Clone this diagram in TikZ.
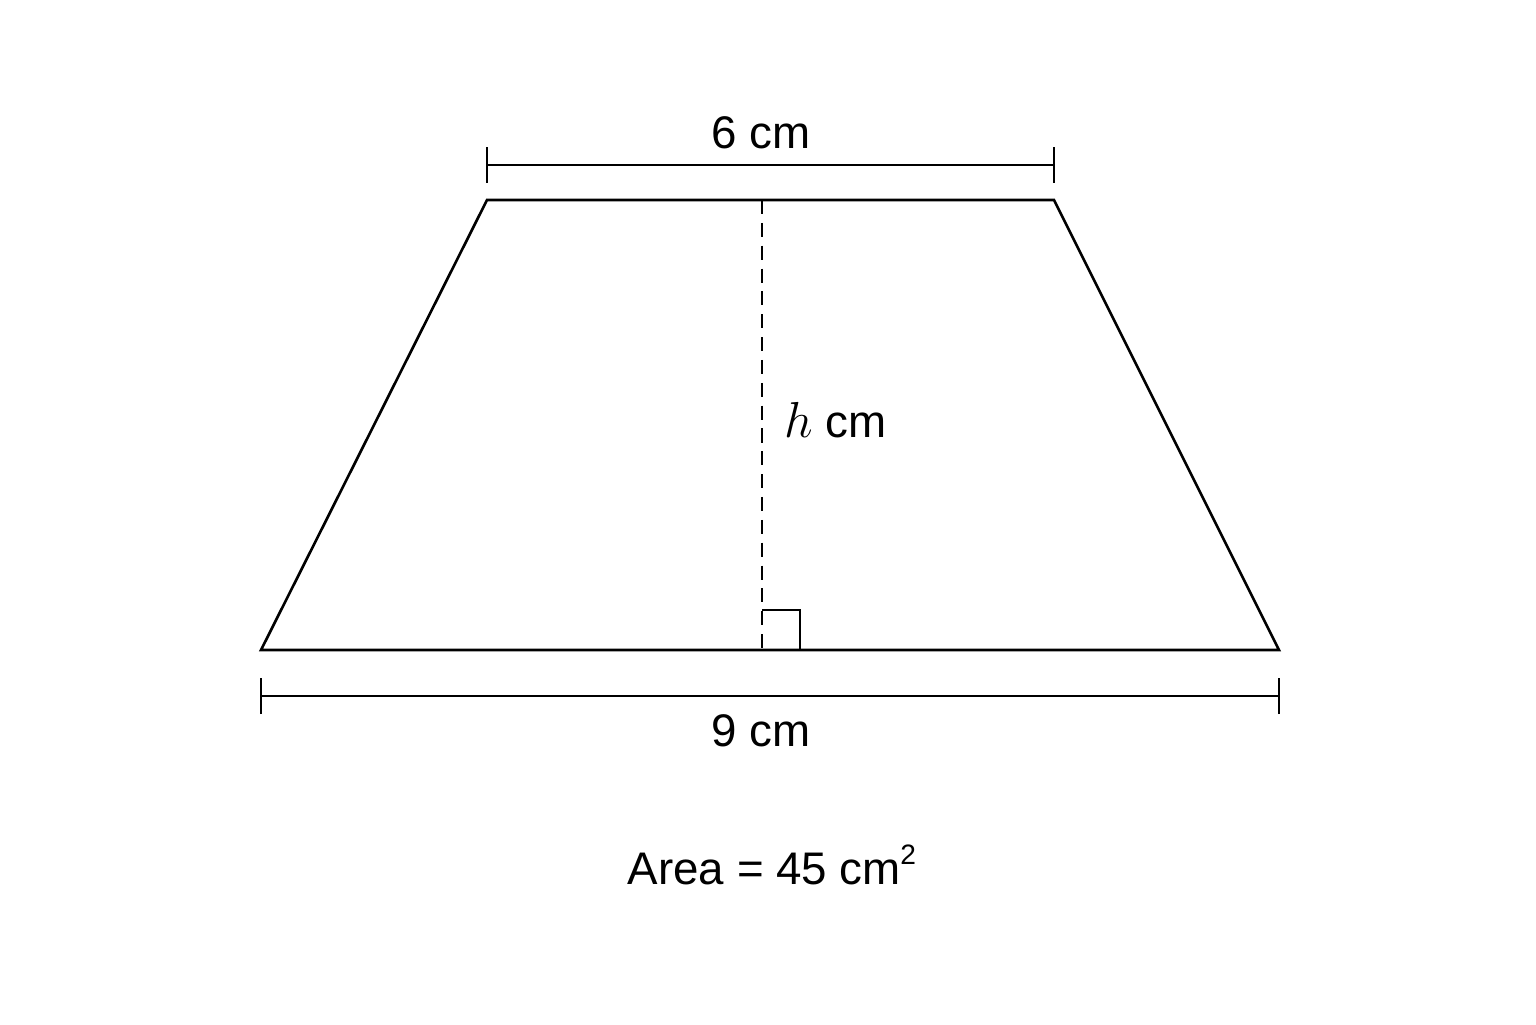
\documentclass[tikz,border=0pt]{standalone}
\usepackage{fontspec}
\setmainfont{Liberation Sans}
\usepackage{tikz}

\begin{document}
\begin{tikzpicture}[x=1cm,y=1cm,
	trapline/.style={black, line width=0.75pt, line join=miter},
	dimline/.style={black, line width=0.45pt},
	lbl/.style={font=\fontsize{13}{15}\selectfont, inner sep=0pt}]
					\useasboundingbox (0,0) rectangle (15.36,10.24);

					\coordinate (BL) at (2.61,3.74);
					\coordinate (BR) at (12.79,3.74);
					\coordinate (TR) at (10.54,8.24);
					\coordinate (TL) at (4.87,8.24);
					\coordinate (HT) at (7.62,8.24);
					\coordinate (HB) at (7.62,3.74);

					\draw [trapline] (BL) -- (BR) -- (TR) -- (TL) -- cycle;
					\draw [black, line width=0.45pt, dash pattern=on 4pt off 2.5pt] (HT) -- (HB);
					\draw [dimline] (7.62,4.14) -- (8.00,4.14) -- (8.00,3.74);

					% top measure
					\coordinate (TA) at (4.87,8.59);
					\coordinate (TB) at (10.54,8.59);
					\draw [dimline] (TA) -- (TB);
					\draw [dimline] (4.87,8.41) -- (4.87,8.77);
					\draw [dimline] (10.54,8.41) -- (10.54,8.77);
					\node [lbl] (top) at (7.61,8.91) {6 cm};

					% bottom measure
					\coordinate (BA) at (2.61,3.28);
					\coordinate (BB) at (12.79,3.28);
					\draw [dimline] (BA) -- (BB);
					\draw [dimline] (2.61,3.10) -- (2.61,3.46);
					\draw [dimline] (12.79,3.10) -- (12.79,3.46);
					\node [lbl] (bottom) at (7.61,2.93) {9 cm};

					\node [lbl, anchor=west] (height) at (7.84,6.04) {{\fontsize{15}{17}\selectfont$h$} cm};
					\node [lbl, anchor=west] (area) at (6.27,1.59) {Area\hspace{0.3em}=\hspace{0.25em}45 cm\raisebox{0.8ex}{\fontsize{8}{10}\selectfont 2}};
				\end{tikzpicture}
\end{document}
